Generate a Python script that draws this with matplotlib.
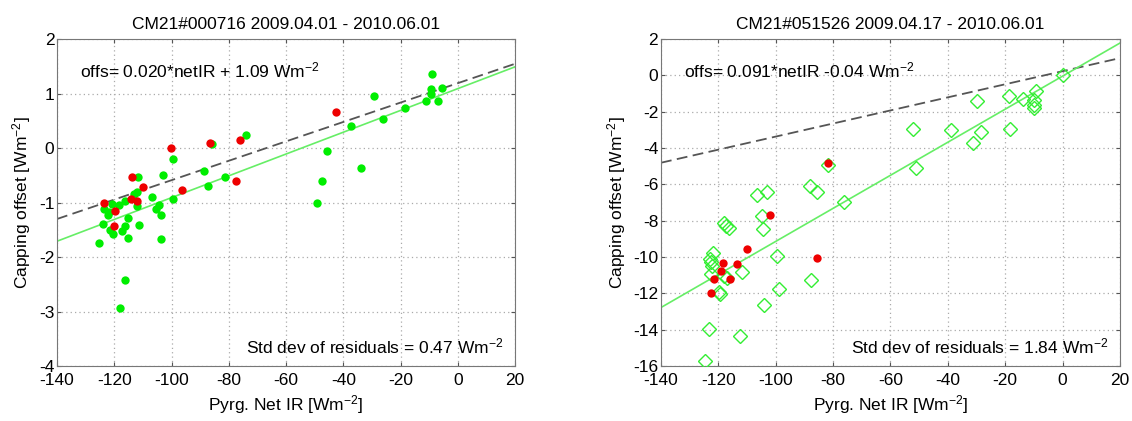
import numpy as np
import matplotlib.pyplot as plt

plt.rcParams['font.family'] = ['Liberation Sans', 'DejaVu Sans']
plt.rcParams['axes.unicode_minus'] = False
plt.rcParams['mathtext.default'] = 'regular'

# CM21#000716 - all days (green) and selected days (red)
x1_all = [-9.0, -9.3, -9.3, -5.5, -11.0, -6.9, -18.5, -26.1, -29.3, -37.2, -45.7, -33.9, -47.3, -49.1,
          -73.9, -86.0, -99.6, -102.9, -88.5, -87.3, -81.2, -99.4, -106.9, -104.4, -105.4, -103.6, -103.7,
          -111.5, -111.7, -112.2, -113.1, -112.0, -116.3, -115.3, -116.2, -117.2, -115.3, -118.3, -120.9,
          -123.5, -122.1, -124.1, -120.6, -121.5, -125.2, -116.2, -118.1, -121.7]
y1_all = [1.35, 1.09, 1.0, 1.11, 0.87, 0.86, 0.74, 0.54, 0.95, 0.40, -0.05, -0.36, -0.61, -1.01,
          0.24, 0.08, -0.20, -0.49, -0.43, -0.70, -0.53, -0.94, -0.89, -1.05, -1.11, -1.22, -1.67,
          -1.41, -0.53, -0.80, -0.85, -1.06, -0.97, -1.29, -1.43, -1.52, -1.66, -1.05, -1.03,
          -1.11, -1.23, -1.40, -1.58, -1.50, -1.74, -2.42, -2.94, -1.17]
x1_sel = [-42.4, -76.0, -86.4, -100.2, -96.3, -77.6, -113.9, -110.1, -114.3, -112.2, -123.7, -119.8, -120.1]
y1_sel = [0.67, 0.14, 0.10, 0.0, -0.77, -0.61, -0.54, -0.71, -0.93, -0.97, -1.0, -1.15, -1.43]

# CM21#051526
x2_all = [0.0, -9.3, -10.1, -10.1, -10.0, -13.8, -18.6, -18.5, -29.8, -28.6, -31.4, -39.0, -52.1, -51.1,
          -76.3, -81.9, -87.9, -85.5, -87.8, -98.8, -99.7, -106.6, -103.1, -104.8, -104.5, -104.2,
          -112.3, -111.6, -118.0, -117.3, -116.2, -116.9, -121.7, -122.6, -122.2, -122.9, -119.9,
          -119.4, -123.1, -124.5, -122.6, -117.9]
y2_all = [0.0, -0.88, -1.37, -1.61, -1.79, -1.28, -1.12, -2.93, -1.43, -3.11, -3.72, -3.02, -2.97, -5.09,
          -6.98, -4.96, -6.10, -6.41, -11.26, -11.74, -9.95, -6.61, -6.43, -7.75, -8.48, -12.66,
          -14.36, -10.82, -8.11, -8.30, -8.42, -11.14, -9.80, -10.27, -10.49, -10.13, -11.92,
          -12.05, -13.94, -15.71, -10.95, -11.04]
x2_sel = [-81.9, -101.9, -110.0, -113.4, -118.5, -119.2, -121.5, -115.8, -122.6, -85.5]
y2_sel = [-4.84, -7.69, -9.54, -10.37, -10.31, -10.77, -11.23, -11.23, -12.0, -10.07]

# fit (green) and reference (dashed) lines: slope, offset
fit1 = (0.020, 1.09)
ref1 = (0.0178, 1.19)
fit2 = (0.091, -0.04)
ref2 = (0.036, 0.23)

titles = ['CM21#000716 2009.04.01 - 2010.06.01', 'CM21#051526 2009.04.17 - 2010.06.01']
eqs = ['offs= 0.020*netIR + 1.09 Wm$^{-2}$', 'offs= 0.091*netIR -0.04 Wm$^{-2}$']
stds = ['Std dev of residuals = 0.47 Wm$^{-2}$', 'Std dev of residuals = 1.84 Wm$^{-2}$']

fig = plt.figure(figsize=(11.32, 4.21), dpi=100)
ax1 = fig.add_axes([0.0504, 0.1306, 0.4046, 0.7767])
ax2 = fig.add_axes([0.5839, 0.1306, 0.4055, 0.7767])

xl = np.array([-140, 20])
fs = 12.5

for i, ax in enumerate([ax1, ax2]):
    fit = [fit1, fit2][i]
    ref = [ref1, ref2][i]
    ax.plot(xl, ref[0] * xl + ref[1], '--', color='#555555', lw=1.3, dashes=(6, 3), zorder=2)
    ax.plot(xl, fit[0] * xl + fit[1], '-', color='#66ee66', lw=1.2, zorder=2)
    if i == 0:
        ax.plot(x1_all, y1_all, 'o', color='#00ee00', ms=6, mec='none', zorder=3)
        ax.plot(x1_sel, y1_sel, 'o', color='#ee0000', ms=6, mec='none', zorder=4)
        ax.set_ylim(-4, 2)
        ax.set_yticks(range(-4, 3))
    else:
        ax.plot(x2_all, y2_all, 'D', mfc='none', mec='#33ee33', ms=7, mew=1.0, zorder=3)
        ax.plot(x2_sel, y2_sel, 'o', color='#ee0000', ms=6, mec='none', zorder=4)
        ax.set_ylim(-16, 2)
        ax.set_yticks(range(-16, 3, 2))
    ax.set_xlim(-140, 20)
    ax.set_xticks(range(-140, 21, 20))
    ax.grid(True, linestyle=(0, (1, 2.5)), color='#aaaaaa', lw=0.9)
    ax.tick_params(direction='in', top=True, right=True, labelsize=fs, length=3, color='#555555')
    ax.tick_params(axis='x', pad=5)
    ax.tick_params(axis='y', pad=2)
    for s in ax.spines.values():
        s.set_color('#777777')
    ax.set_title(titles[i], fontsize=fs, pad=7)
    ax.set_xlabel('Pyrg. Net IR [Wm$^{-2}$]', fontsize=fs, labelpad=4)
    ax.set_ylabel('Capping offset [Wm$^{-2}$]', fontsize=fs, labelpad=4)
    ax.text(0.05, 0.905, eqs[i], transform=ax.transAxes, fontsize=fs, va='center', ha='left')
    ax.text(0.975, 0.06, stds[i], transform=ax.transAxes, fontsize=fs, va='center', ha='right')

fig.savefig('out.png', dpi=100)
